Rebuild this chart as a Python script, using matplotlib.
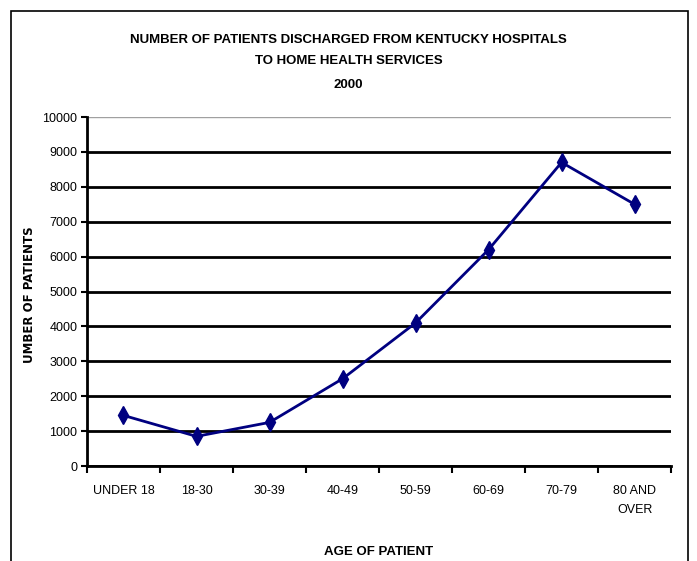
import numpy as np
import matplotlib.pyplot as plt
from matplotlib.patches import Rectangle

# patients discharged to home health services, by age group (2000)
age_groups = ['UNDER 18', '18-30', '30-39', '40-49', '50-59', '60-69', '70-79', '80 AND\nOVER']
patients = [1450, 850, 1250, 2500, 4100, 6200, 8700, 7500]
y_ticks = [0, 1000, 2000, 3000, 4000, 5000, 6000, 7000, 8000, 9000, 10000]

plt.rcParams['font.family'] = ['Liberation Sans Narrow', 'Liberation Sans', 'DejaVu Sans']

fig = plt.figure(figsize=(6.97, 5.61), dpi=100)
ax = fig.add_axes([0.1248, 0.1693, 0.838, 0.6221])

x = np.arange(len(age_groups))
ax.plot(x, patients, color='#000080', lw=2, marker='d', ms=9, mfc='#000080', mec='#000080')

ax.set_xlim(-0.5, len(age_groups) - 0.5)
ax.set_ylim(0, 10000)
ax.set_yticks(y_ticks)
ax.set_yticklabels([str(v) for v in y_ticks], fontsize=9)

# category labels centred, tick marks between categories
ax.set_xticks(x)
ax.set_xticklabels(age_groups, fontsize=9, linespacing=1.7)
ax.set_xticks(np.arange(-0.5, len(age_groups)), minor=True)
ax.tick_params(axis='x', which='major', length=0, pad=14)
ax.tick_params(axis='x', which='minor', length=5, width=1.5, direction='out')
ax.tick_params(axis='y', length=4, width=1.5, direction='out', pad=3)

ax.yaxis.grid(True, color='black', lw=2)
ax.set_axisbelow(True)
gl = ax.get_ygridlines()
gl[-1].set_color('#a0a0a0')
gl[-1].set_linewidth(1)

for side in ['top', 'right']:
    ax.spines[side].set_visible(False)
ax.spines['left'].set_linewidth(2)
ax.spines['bottom'].set_linewidth(2)

ax.set_xlabel('AGE OF PATIENT', fontsize=9.5, fontweight='bold')
ax.xaxis.set_label_coords(0.5, -0.229)
ax.set_ylabel('UMBER OF PATIENTS', fontsize=8.5, fontweight='bold',
              family=['DejaVu Sans'])
ax.yaxis.set_label_coords(-0.088, 0.49)

fig.text(0.5, 0.928, 'NUMBER OF PATIENTS DISCHARGED FROM KENTUCKY HOSPITALS',
         ha='center', va='center', fontsize=9.5, fontweight='bold')
fig.text(0.5, 0.891, 'TO HOME HEALTH SERVICES',
         ha='center', va='center', fontsize=9.5, fontweight='bold')
fig.text(0.5, 0.848, '2000', ha='center', va='center', fontsize=9.5, fontweight='bold')

# outer chart border
fig.patches.append(Rectangle((0.0158, -0.05), 0.971, 1.03, transform=fig.transFigure,
                             fill=False, ec='black', lw=1.2))

fig.savefig('out.png', dpi=100)
